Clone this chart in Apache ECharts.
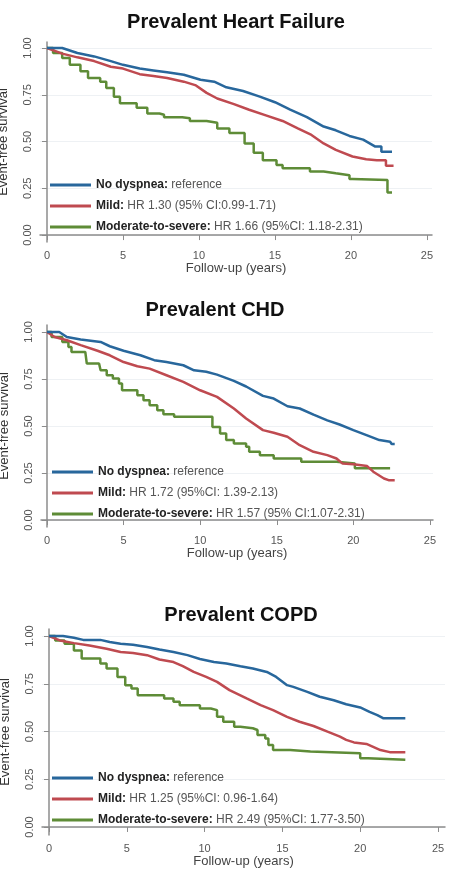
<!DOCTYPE html>
<html lang="en">
<head>
  <meta charset="UTF-8">
  <title>Event-free survival by dyspnea</title>
  <script src="https://cdn.jsdelivr.net/npm/echarts@6/dist/echarts.min.js"></script>
  <style>
    html, body { margin: 0; padding: 0; background: #fff; }
  </style>
</head>
<body>
  <div id="app" style="width: 451px; height: 877px;"></div>
  <script>
    // Kaplan-Meier style curves, [years, survival]
    var titles = ['Prevalent Heart Failure', 'Prevalent CHD', 'Prevalent COPD']
    var xTicks = [0, 5, 10, 15, 20, 25]
    var yTicks = [0, 0.25, 0.5, 0.75, 1]

    var hfNone = [[0,1],[1,1],[2,0.973],[3.1,0.955],[4.2,0.93],[5,0.91],[6.1,0.89],[7,0.88],[7.9,0.87],[9,0.857],[10.1,0.83],[11,0.82],[11.8,0.79],[12.9,0.77],[14,0.74],[15,0.71],[16,0.67],[17.1,0.63],[18.2,0.58],[19,0.56],[19.9,0.53],[20.8,0.51],[21.6,0.473],[22,0.473],[22,0.446],[22.7,0.446]]
    var hfMild = [[0,1],[1,0.97],[2,0.95],[3.1,0.93],[4.2,0.9],[5,0.89],[6.1,0.86],[7,0.85],[7.9,0.84],[9,0.82],[9.8,0.8],[10.5,0.76],[11.2,0.73],[12.3,0.7],[13.3,0.67],[14.4,0.64],[15.5,0.61],[16.5,0.57],[17.4,0.535],[18.2,0.49],[19,0.455],[20.1,0.42],[21,0.405],[21.7,0.4],[22.3,0.4],[22.3,0.37],[22.8,0.37]]
    var hfMod = [[0,1],[0.4,0.973],[1,0.946],[1.5,0.91],[2.2,0.875],[2.7,0.84],[3.5,0.82],[3.9,0.786],[4.4,0.74],[4.8,0.705],[5.9,0.68],[6.6,0.65],[7.4,0.643],[7.7,0.63],[8.9,0.625],[9.4,0.61],[10.5,0.6],[11.2,0.57],[12,0.545],[13,0.49],[13.6,0.44],[14.2,0.4],[15.1,0.375],[15.5,0.357],[17.3,0.34],[18.2,0.33],[19,0.32],[19.9,0.3],[20.1,0.295],[22.4,0.227],[22.7,0.227]]

    var chdNone = [[0,1],[0.8,1],[1.3,0.973],[2.2,0.96],[3.5,0.947],[4.1,0.924],[5,0.9],[6.1,0.876],[7,0.85],[7.8,0.84],[8.9,0.823],[9.6,0.796],[10.4,0.788],[11.1,0.773],[12.2,0.74],[13,0.71],[14.1,0.66],[14.8,0.646],[15.7,0.605],[16.5,0.593],[17.4,0.56],[18.3,0.53],[19.1,0.508],[20,0.478],[20.9,0.45],[21.7,0.425],[22.4,0.416],[22.5,0.404],[22.7,0.404]]
    var chdMild = [[0,1],[0.5,0.973],[1.3,0.956],[2.2,0.93],[3.3,0.9],[4.1,0.876],[5,0.84],[5.9,0.818],[6.7,0.805],[7.8,0.77],[8.9,0.735],[10,0.69],[11.1,0.655],[12.2,0.593],[13,0.54],[14.1,0.478],[14.8,0.464],[15.7,0.443],[16.5,0.398],[17.4,0.363],[18.3,0.345],[18.9,0.327],[19.3,0.3],[20,0.297],[20.9,0.287],[21.3,0.257],[22,0.221],[22.3,0.212],[22.7,0.212]]
    var chdMod = [[0,1],[0.3,0.973],[1,0.947],[1.4,0.92],[1.6,0.894],[2.5,0.885],[2.6,0.832],[3.4,0.823],[3.5,0.796],[3.9,0.77],[4.3,0.752],[4.7,0.726],[4.9,0.69],[5.9,0.664],[6.3,0.637],[6.7,0.61],[7.2,0.584],[7.6,0.563],[8.3,0.549],[10.8,0.495],[11.3,0.46],[11.7,0.425],[12.2,0.407],[13,0.39],[13.2,0.363],[13.9,0.345],[14.8,0.327],[16.6,0.31],[18.9,0.3],[20.1,0.275],[22.4,0.275]]

    var copdNone = [[0,1],[0.9,1],[1.6,0.991],[2.2,0.98],[3.3,0.98],[3.9,0.969],[4.6,0.96],[5.4,0.955],[6.3,0.943],[7.1,0.93],[8,0.917],[8.9,0.9],[9.7,0.88],[10.6,0.864],[11.4,0.856],[12.3,0.842],[13.1,0.83],[14,0.812],[14.6,0.786],[15.3,0.743],[15.7,0.734],[16.6,0.708],[17.4,0.682],[18.3,0.664],[19.1,0.643],[20,0.626],[20.6,0.603],[21.1,0.586],[21.5,0.569],[22.9,0.569]]
    var copdMild = [[0,1],[0.7,0.977],[1.6,0.963],[2.6,0.951],[3.7,0.934],[4.6,0.917],[5.4,0.911],[6.3,0.9],[7.1,0.877],[8,0.864],[8.6,0.842],[9.3,0.812],[10.1,0.786],[10.8,0.76],[11.6,0.717],[12.7,0.673],[13.6,0.638],[14.4,0.612],[15.3,0.577],[16.1,0.551],[17,0.529],[17.9,0.499],[18.7,0.473],[19.1,0.456],[19.6,0.443],[20.4,0.435],[21.3,0.403],[21.9,0.392],[22.9,0.392]]
    var copdMod = [[0,1],[0.4,0.977],[1,0.96],[1.6,0.925],[2.1,0.882],[3.3,0.856],[3.7,0.83],[4.4,0.786],[4.9,0.743],[5.3,0.725],[5.7,0.69],[7.4,0.673],[8,0.656],[8.4,0.638],[9.7,0.621],[10.4,0.612],[10.8,0.577],[11.2,0.551],[11.9,0.525],[12.3,0.517],[13.1,0.508],[13.4,0.482],[13.9,0.464],[14.1,0.43],[14.4,0.403],[15.5,0.395],[16.8,0.386],[20,0.36],[20.5,0.352],[22.9,0.352]]

    var noneLabel = 'No dyspnea: reference'
    var mildLabels = ['Mild: HR 1.30 (95% CI:0.99-1.71)', 'Mild: HR 1.72 (95%CI: 1.39-2.13)', 'Mild: HR 1.25 (95%CI: 0.96-1.64)']
    var modLabels = ['Moderate-to-severe: HR 1.66 (95%CI: 1.18-2.31)', 'Moderate-to-severe: HR 1.57 (95% CI:1.07-2.31)', 'Moderate-to-severe: HR 2.49 (95%CI: 1.77-3.50)']

    var panelData = [[hfNone, hfMild, hfMod], [chdNone, chdMild, chdMod], [copdNone, copdMild, copdMod]]
    var colors = ['#28679c', '#bf4a50', '#5e8c37']
    // blue and red are dense small steps (traced as a line), green has coarse steps
    var stepMode = [false, false, 'end']
    var font = 'Liberation Sans, Arial, Helvetica, sans-serif'

    // layout of each panel (pixels), and axis padding like Stata
    var grids = [
      { left: 40, top: 42, width: 392, height: 200, outerBoundsMode: 'none' },
      { left: 41, top: 325, width: 392, height: 202, outerBoundsMode: 'none' },
      { left: 42, top: 629, width: 403, height: 206, outerBoundsMode: 'none' }
    ]
    var xRange = [[-0.46, 25.33], [-0.39, 25.2], [-0.45, 25.45]]
    var yRange = [[-0.037, 1.032], [-0.037, 1.037], [-0.042, 1.037]]
    var titlePos = [{ left: 231, top: 7 }, { left: 210, top: 295 }, { left: 236, top: 600 }]
    var legendPos = [{ left: 50, top: 178 }, { left: 52, top: 465 }, { left: 52, top: 771 }]

    var axisGray = '#8c8c8c'

    var option = {
      backgroundColor: '#fff',
      animation: false,
      title: [],
      grid: [],
      xAxis: [],
      yAxis: [],
      legend: [],
      series: []
    }

    for (var i = 0; i < 3; i++) {
      option.title.push({
        text: titles[i],
        left: titlePos[i].left,
        top: titlePos[i].top,
        textAlign: 'center',
        textStyle: { fontFamily: font, fontSize: 20, fontWeight: 'bold', color: '#111' }
      })
      option.grid.push(grids[i])
      option.xAxis.push({
        type: 'value',
        gridIndex: i,
        min: xRange[i][0],
        max: xRange[i][1],
        name: 'Follow-up (years)',
        nameLocation: 'middle',
        nameGap: 19,
        nameTextStyle: { fontFamily: font, fontSize: 13, color: '#444' },
        axisLine: { show: true, lineStyle: { color: axisGray, width: 1.5 } },
        axisTick: { show: true, length: 5, customValues: xTicks, lineStyle: { color: axisGray } },
        axisLabel: { customValues: xTicks, margin: 8, fontFamily: font, fontSize: 11, color: '#555' },
        splitLine: { show: false }
      })
      option.yAxis.push({
        type: 'value',
        gridIndex: i,
        min: yRange[i][0],
        max: yRange[i][1],
        name: 'Event-free survival',
        nameLocation: 'middle',
        nameGap: 30,
        nameTextStyle: { fontFamily: font, fontSize: 13, color: '#333' },
        axisLine: { show: true, lineStyle: { color: axisGray, width: 1.5 } },
        axisTick: { show: true, length: 5, customValues: yTicks, lineStyle: { color: axisGray } },
        axisLabel: {
          customValues: yTicks,
          rotate: 90,
          margin: 7,
          fontFamily: font,
          fontSize: 11,
          color: '#555',
          formatter: function (v) { return v.toFixed(2) }
        },
        splitLine: { show: true, lineStyle: { color: '#eef1f4', width: 1 } }
      })

      var names = [noneLabel, mildLabels[i], modLabels[i]]
      option.legend.push({
        orient: 'vertical',
        left: legendPos[i].left,
        top: legendPos[i].top,
        padding: 0,
        data: names,
        icon: 'rect',
        itemWidth: 41,
        itemHeight: 3,
        itemGap: 7,
        selectedMode: false,
        textStyle: {
          fontFamily: font,
          fontSize: 12,
          lineHeight: 14,
          color: '#555',
          rich: {
            b: { fontFamily: font, fontSize: 12, lineHeight: 14, fontWeight: 'bold', color: '#222' },
            n: { fontFamily: font, fontSize: 12, lineHeight: 14, color: '#555' }
          }
        },
        formatter: function (name) {
          var k = name.indexOf(':')
          return '{b|' + name.slice(0, k + 1) + '}{n|' + name.slice(k + 1) + '}'
        }
      })

      for (var j = 0; j < 3; j++) {
        option.series.push({
          type: 'line',
          name: names[j],
          xAxisIndex: i,
          yAxisIndex: i,
          step: stepMode[j],
          symbol: 'none',
          data: panelData[i][j],
          z: 3 - j,
          itemStyle: { color: colors[j] },
          lineStyle: { color: colors[j], width: 2.5 }
        })
      }
    }

    var mCharts = echarts.init(document.querySelector('#app'))
    mCharts.setOption(option)
  </script>
</body>
</html>
